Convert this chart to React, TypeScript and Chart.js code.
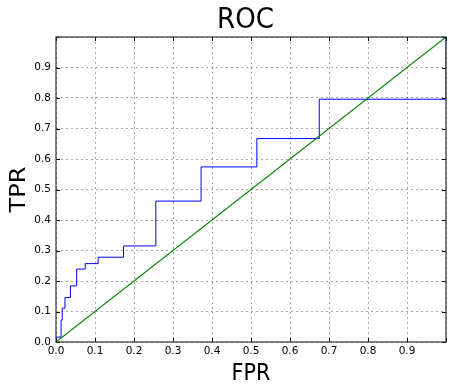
import React, { useEffect, useRef } from "react";
import { Chart, registerables } from "chart.js";

Chart.register(...registerables);

// ROC curve corners (false positive rate / true positive rate)
const fpr = [0, 0, 0.013, 0.013, 0.016, 0.016, 0.023, 0.023, 0.037, 0.037, 0.053, 0.053, 0.075, 0.075, 0.108, 0.108, 0.173, 0.173, 0.256, 0.256, 0.372, 0.372, 0.515, 0.515, 0.675, 0.675, 1.0, 1.0];
const tpr = [0, 0.016, 0.016, 0.072, 0.072, 0.111, 0.111, 0.146, 0.146, 0.184, 0.184, 0.239, 0.239, 0.257, 0.257, 0.278, 0.278, 0.315, 0.315, 0.462, 0.462, 0.574, 0.574, 0.667, 0.667, 0.796, 0.796, 1.0];

// chance diagonal
const diagX = [0, 1];
const diagY = [0, 1];

const tickLabels = ["0.0", "0.1", "0.2", "0.3", "0.4", "0.5", "0.6", "0.7", "0.8", "0.9"];

const TITLE = "ROC";
const X_LABEL = "FPR";
const Y_LABEL = "TPR";

const FONT = '"DejaVu Sans", "Bitstream Vera Sans", sans-serif';
const SQUASH = 0.9;

const decor = {
  id: "decor",
  afterDraw(chart: any) {
    const { ctx, chartArea: a, scales } = chart;
    const xs = scales.x;
    const ys = scales.y;
    ctx.save();
    // inward tick marks on all four sides
    ctx.strokeStyle = "#000";
    ctx.lineWidth = 1;
    ctx.beginPath();
    xs.ticks.forEach((t: any) => {
      const px = Math.round(xs.getPixelForValue(t.value)) + 0.5;
      ctx.moveTo(px, a.bottom);
      ctx.lineTo(px, a.bottom - 4);
      ctx.moveTo(px, a.top);
      ctx.lineTo(px, a.top + 4);
    });
    ys.ticks.forEach((t: any) => {
      const py = Math.round(ys.getPixelForValue(t.value)) + 0.5;
      ctx.moveTo(a.left, py);
      ctx.lineTo(a.left + 4, py);
      ctx.moveTo(a.right, py);
      ctx.lineTo(a.right - 4, py);
    });
    ctx.stroke();
    // frame
    ctx.strokeStyle = "#333";
    ctx.lineWidth = 1.2;
    ctx.strokeRect(a.left, a.top, a.right - a.left, a.bottom - a.top);
    // texts
    ctx.fillStyle = "#000";
    ctx.textAlign = "center";
    ctx.textBaseline = "alphabetic";
    const cx = (a.left + a.right) / 2;

    ctx.save();
    ctx.translate(cx - 5.5, 28.3);
    ctx.scale(SQUASH, 1);
    ctx.font = `29px ${FONT}`;
    ctx.fillText(TITLE, 0, 0);
    ctx.restore();

    ctx.save();
    ctx.translate(cx, 380);
    ctx.scale(SQUASH, 1);
    ctx.font = `23px ${FONT}`;
    ctx.fillText(X_LABEL, 0, 0);
    ctx.restore();

    ctx.save();
    ctx.translate(25, (a.top + a.bottom) / 2);
    ctx.scale(SQUASH, 1);
    ctx.rotate(-Math.PI / 2);
    ctx.font = `24px ${FONT}`;
    ctx.fillText(Y_LABEL, 0, 0);
    ctx.restore();

    ctx.restore();
  },
};

export default function App() {
  const ref = useRef<HTMLCanvasElement | null>(null);

  useEffect(() => {
    document.body.style.margin = "0";
    document.documentElement.style.overflow = "hidden";
    const canvas = ref.current;
    if (!canvas) return;
    const grid = {
      color: "rgba(0,0,0,0.35)",
      lineWidth: 1,
      drawTicks: false,
    };
    const border = { display: false, dash: [2, 3] };
    const tickFont = { family: FONT, size: 10.5 };
    const chart = new Chart(canvas, {
      type: "scatter",
      data: {
        datasets: [
          {
            label: "ROC",
            data: fpr.map((x, i) => ({ x, y: tpr[i] })),
            showLine: true,
            borderColor: "#0000ff",
            borderWidth: 1,
            pointRadius: 0,
            fill: false,
            order: 1,
          },
          {
            label: "chance",
            data: diagX.map((x, i) => ({ x, y: diagY[i] })),
            showLine: true,
            borderColor: "#008000",
            borderWidth: 1.1,
            pointRadius: 0,
            fill: false,
            order: 0,
          },
        ],
      },
      options: {
        animation: false,
        responsive: false,
        devicePixelRatio: 1,
        layout: { padding: { top: 37, right: 1, left: 0, bottom: 0 } },
        plugins: {
          legend: { display: false },
          tooltip: { enabled: false },
          title: { display: false },
        },
        scales: {
          x: {
            type: "linear",
            min: 0,
            max: 1,
            grid,
            border,
            ticks: {
              stepSize: 0.1,
              autoSkip: false,
              maxRotation: 0,
              padding: 3,
              color: "#000",
              font: tickFont,
              callback: (_v: any, i: number) => (i < tickLabels.length ? tickLabels[i] : ""),
            },
            afterFit: (s: any) => {
              s.height = 46;
            },
          },
          y: {
            type: "linear",
            min: 0,
            max: 1,
            grid,
            border,
            ticks: {
              stepSize: 0.1,
              autoSkip: false,
              padding: 5,
              color: "#000",
              font: tickFont,
              callback: (_v: any, i: number) => (i < tickLabels.length ? tickLabels[i] : ""),
            },
            afterFit: (s: any) => {
              s.width = 56;
            },
          },
        },
      },
      plugins: [decor],
    } as any);
    return () => chart.destroy();
  }, []);

  return (
    <div style={{ position: "fixed", left: 0, top: 0, width: 449, height: 388, background: "#fff" }}>
      <canvas ref={ref} width={449} height={388} style={{ display: "block" }} />
    </div>
  );
}
